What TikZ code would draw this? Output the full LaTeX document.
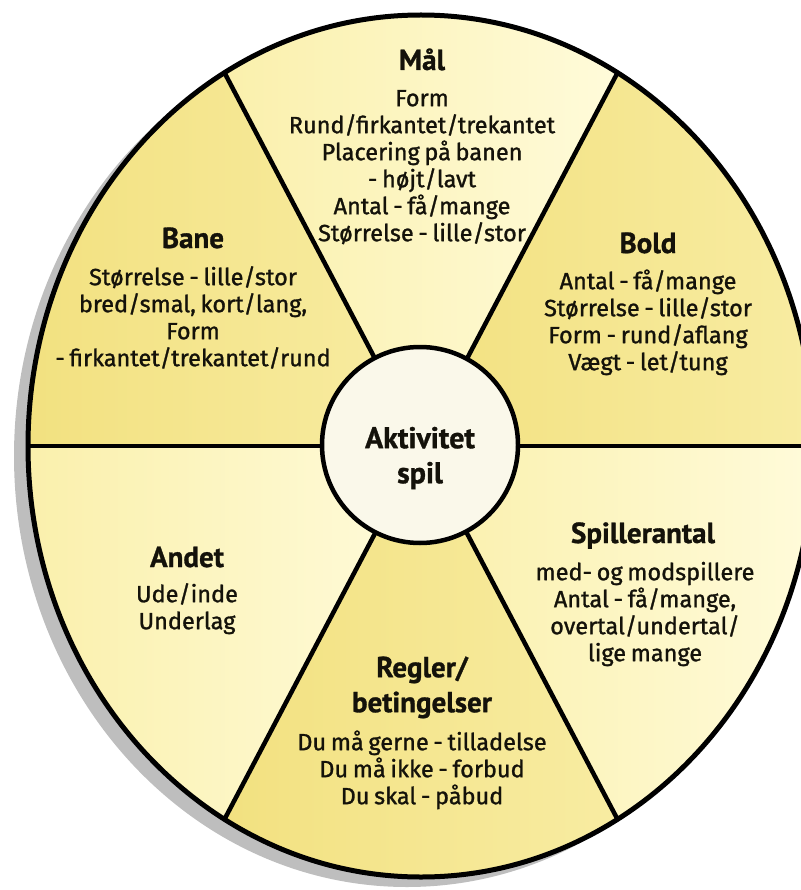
\documentclass[tikz,border=0pt]{standalone}
\usepackage{fontspec}
\setmainfont{PT Sans}
\newfontface\bodyfont{Fira Sans}[FakeBold=1.2,WordSpace=0.75]
\newfontfamily\ttlfamily{PT Sans}[BoldFeatures={FakeBold=1.0}]
\definecolor{darkA}{RGB}{242,225,128}
\definecolor{darkB}{RGB}{248,236,162}
\definecolor{lightA}{RGB}{250,240,172}
\definecolor{lightB}{RGB}{255,251,218}
\definecolor{hubfill}{RGB}{250,248,234}
\definecolor{shadowc}{RGB}{190,190,190}
\definecolor{ink}{RGB}{20,18,10}
\newcommand\mystrut{\rule{0pt}{20pt}}
\newcommand\bigstrut{\rule{0pt}{26pt}}
\begin{document}
\begin{tikzpicture}[x=1pt,y=-1pt,line join=round,
  body/.style={font=\bodyfont\fontsize{23.5}{27}\selectfont,text=ink,align=center,inner sep=0pt,anchor=north},
  ttl/.style={font=\ttlfamily\bfseries\fontsize{29}{35}\selectfont,text=ink,inner sep=0pt,anchor=base},
  ttlm/.style={font=\ttlfamily\bfseries\fontsize{29}{35}\selectfont,text=ink,align=center,inner sep=0pt,anchor=north},
  outline/.style={line width=5pt},
  divider/.style={line width=4.5pt},
  darksec/.style={left color=darkA,right color=darkB},
  lightsec/.style={left color=lightA,right color=lightB}]
\useasboundingbox (0,0) rectangle (800,890);
\coordinate (c) at (421,446);
% shadow
\fill[shadowc] (407,456) ellipse[x radius=393,y radius=431];
% sectors
\path[lightsec] (c) -- ++(-120:393 and 431) arc[start angle=-120,end angle=-60,x radius=393,y radius=431] -- cycle;
\path[darksec] (c) -- ++(-60:393 and 431) arc[start angle=-60,end angle=0,x radius=393,y radius=431] -- cycle;
\path[lightsec] (c) -- ++(0:393 and 431) arc[start angle=0,end angle=60,x radius=393,y radius=431] -- cycle;
\path[darksec] (c) -- ++(60:393 and 431) arc[start angle=60,end angle=120,x radius=393,y radius=431] -- cycle;
\path[lightsec] (c) -- ++(120:393 and 431) arc[start angle=120,end angle=180,x radius=393,y radius=431] -- cycle;
\path[darksec] (c) -- ++(180:393 and 431) arc[start angle=180,end angle=240,x radius=393,y radius=431] -- cycle;
% dividers
\foreach \a in {0,60,120,180,240,300}
  \draw[divider] (c) -- ++(\a:393 and 431);
% outer outline
\draw[outline] (c) ellipse[x radius=393,y radius=431];
% hub
\node[circle,draw,line width=4.5pt,fill=hubfill,minimum size=196pt,inner sep=0pt] (hub) at (420,445) {};
\node[ttlm,font=\ttlfamily\bfseries\fontsize{30}{35}\selectfont] (hubtxt) at (420,448-26) {\bigstrut Aktivitet\\spil};
% Mål
\node[ttl] (maltitle) at (422,70) {Mål};
\node[body] (malbody) at (422,106-20) {\mystrut Form\\Rund/firkantet/trekantet\\Placering på banen\\- højt/lavt\\Antal - få/mange\\Størrelse - lille/stor};
% Bane
\node[ttl] (banetitle) at (193,248) {Bane};
\node[body] (banebody) at (193,285-20) {\mystrut Størrelse - lille/stor\\bred/smal, kort/lang,\\Form\\- firkantet/trekantet/rund};
% Bold
\node[ttl] (boldtitle) at (648,253) {Bold};
\node[body] (boldbody) at (648,289-20) {\mystrut Antal - få/mange\\Størrelse - lille/stor\\Form - rund/aflang\\Vægt - let/tung};
% Andet
\node[ttl] (andettitle) at (187,567) {Andet};
\node[body] (andetbody) at (187,602-20) {\mystrut Ude/inde\\Underlag};
% Spillerantal
\node[ttl] (spiltitle) at (643,543) {Spillerantal};
\node[body] (spilbody) at (645,580-20) {\mystrut med- og modspillere\\Antal - få/mange,\\overtal/undertal/\\lige mange};
% Regler
\node[ttlm] (regtitle) at (422,677-26) {\bigstrut Regler/\\betingelser};
\node[body] (regbody) at (422,750-20) {\mystrut Du må gerne - tilladelse\\Du må ikke - forbud\\Du skal - påbud};
\end{tikzpicture}
\end{document}
